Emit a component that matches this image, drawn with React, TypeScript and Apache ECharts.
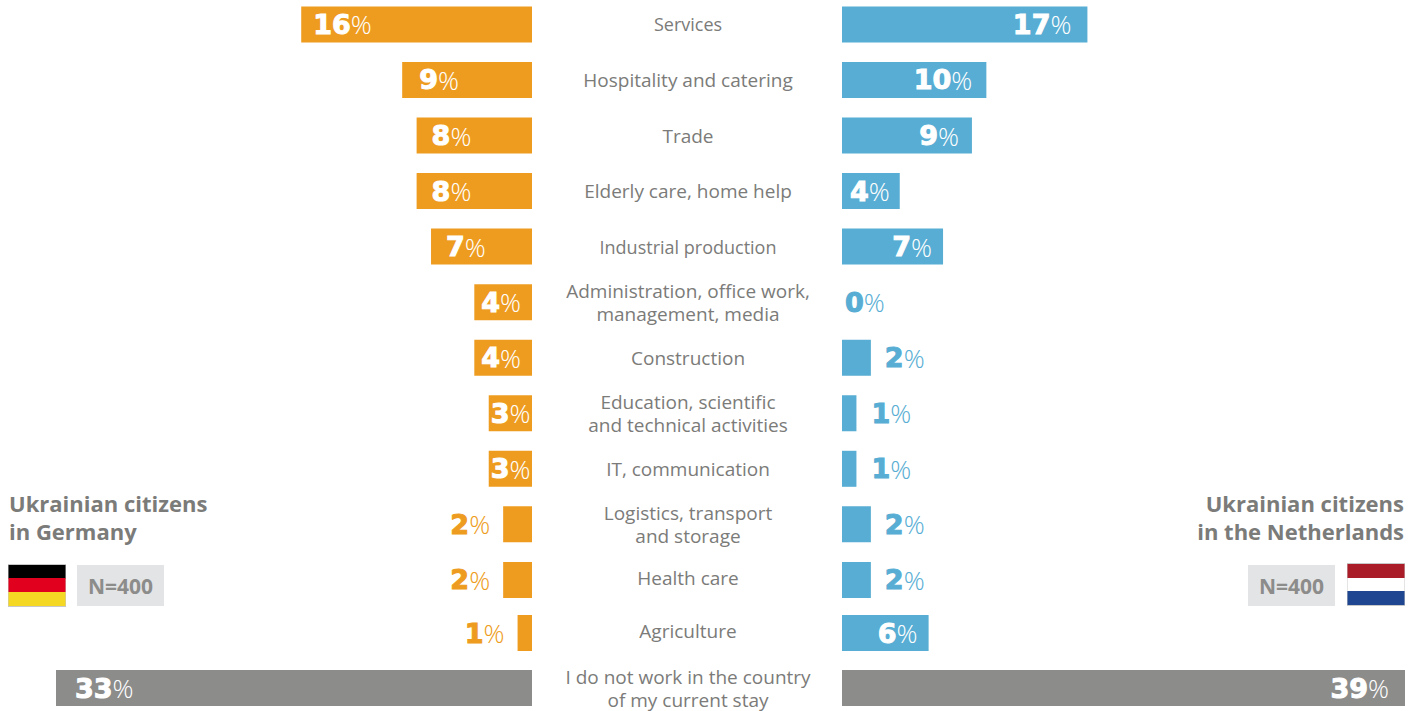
import React, { useEffect, useRef } from "react";
import * as echarts from "echarts";

const topCategories = [
  "Services",
  "Hospitality and catering",
  "Trade",
  "Elderly care, home help",
  "Industrial production",
  "Administration, office work,\nmanagement, media",
  "Construction",
  "Education, scientific\nand technical activities",
  "IT, communication",
  "Logistics, transport\nand storage",
  "Health care",
];
const bottomCategories = ["Agriculture", "I do not work in the country\nof my current stay"];
const germanyTop = [16, 9, 8, 8, 7, 4, 4, 3, 3, 2, 2];
const germanyBottom = [1, 33];
const netherlandsTop = [17, 10, 9, 4, 7, 0, 2, 1, 1, 2, 2];
const netherlandsBottom = [6, 39];

const raisedLabels = ["Health care", "Agriculture"];

const ORANGE = "#ee9c20";
const BLUE = "#57add3";
const GREY = "#8c8c8b";
const TEXT = "#7b7b79";
const NUM_FONT = '"DejaVu Sans", sans-serif';
const PCT_FONT = '"Open Sans", sans-serif';
const SHIFT = 10;

function rich(color: string) {
  return {
    n: { fontFamily: NUM_FONT, fontWeight: 700, fontSize: 27, color, textBorderColor: color, textBorderWidth: 1 },
    p: { fontFamily: PCT_FONT, fontWeight: 300, fontSize: 26, color },
  };
}

const germanyDistance = (v: number) => (v === 3 ? 2 : v === 4 ? 7 : v === 9 ? 17 : v === 16 ? 12 : v === 33 ? 19 : 15);

function germanyItem(value: number, lastRow: boolean) {
  const inside = value >= 3;
  return {
    value,
    itemStyle: { color: lastRow ? GREY : ORANGE },
    label: {
      show: true,
      position: inside ? "insideLeft" : "left",
      distance: inside ? germanyDistance(value) : 13,
      formatter: `{n|${value}}{p|%}`,
      rich: rich(inside ? "#ffffff" : ORANGE),
    },
  };
}

const netherlandsDistance = (v: number) => (v >= 17 ? 16 : v === 10 ? 14 : v === 9 ? 13 : v === 4 ? 10 : 11);

function netherlandsItem(value: number, lastRow: boolean) {
  const inside = value >= 4;
  return {
    value,
    itemStyle: { color: lastRow ? GREY : BLUE },
    label: {
      show: true,
      position: inside ? "insideRight" : "right",
      distance: inside ? netherlandsDistance(value) : value === 0 ? 3 : value === 1 ? 15 : 14,
      formatter: `{n|${value}}{p|%}`,
      rich: rich(inside ? "#ffffff" : BLUE),
    },
  };
}

const App = () => {
  const ref = useRef<HTMLDivElement>(null);
  useEffect(() => {
    document.body.style.margin = "0";
    document.body.style.overflow = "hidden";
    const chart = echarts.init(ref.current!, undefined, { renderer: "svg" });
    const labelStyle = {
      show: true,
      fontFamily: PCT_FONT,
      fontSize: 19,
      lineHeight: 23,
      color: TEXT,
      align: "center",
      margin: 154,
      formatter: (v: string) => (raisedLabels.includes(v) ? `{up|${v}}` : v),
      rich: {
        up: { fontFamily: PCT_FONT, fontSize: 19, lineHeight: 23, color: TEXT, padding: [0, 0, 4, 0] },
      },
    };
    const hiddenY = (cats: string[], gridIndex: number) => ({
      type: "category",
      data: cats,
      inverse: true,
      gridIndex,
      axisLine: { show: false },
      axisTick: { show: false },
      axisLabel: { show: false },
    });
    const labelY = (cats: string[], gridIndex: number) => ({
      type: "category",
      data: cats.map((c) => ({
        value: c,
        textStyle: {
          align: "center",
          fontSize: c === "Services" || c === "Industrial production" ? 18 : 19,
        },
      })),
      inverse: true,
      gridIndex,
      axisLine: { show: false },
      axisTick: { show: false },
      axisLabel: labelStyle,
    });
    const bar = (data: any[], idx: number) => ({
      type: "bar",
      xAxisIndex: idx,
      yAxisIndex: idx,
      barWidth: 36,
      data,
    });
    const titleText = (text: string, x: number, y: number, align: string) => ({
      type: "text",
      x,
      y,
      style: {
        text,
        fontFamily: PCT_FONT,
        fontWeight: 700,
        fontSize: 22,
        lineHeight: 28,
        fill: TEXT,
        align,
        verticalAlign: "top",
      },
    });
    const nBox = (x: number) => [
      { type: "rect", shape: { x, y: 565, width: 87, height: 41 }, style: { fill: "#e3e4e6" } },
      {
        type: "text",
        x: x + 43.5,
        y: 585.5,
        style: {
          text: "N=400",
          fontFamily: PCT_FONT,
          fontWeight: 700,
          fontSize: 21,
          fill: "#8c8c8b",
          align: "center",
          verticalAlign: "middle",
        },
      },
    ];
    const stripe = (x: number, y: number, h: number, fill: string) => ({
      type: "rect",
      shape: { x, y, width: 57, height: h },
      style: { fill },
    });
    chart.setOption({
      animation: false,
      grid: [
        { left: 56, width: 476, top: SHIFT - 3.375, height: 611.05 },
        { left: 842, width: 563, top: SHIFT - 3.375, height: 611.05 },
        { left: 56, width: 476, top: SHIFT + 605.5, height: 110 },
        { left: 842, width: 563, top: SHIFT + 605.5, height: 110 },
      ],
      xAxis: [0, 1, 2, 3].map((i) => ({
        type: "value",
        gridIndex: i,
        min: 0,
        max: i % 2 === 0 ? 33 : 39,
        inverse: i % 2 === 0,
        show: false,
      })),
      yAxis: [
        hiddenY(topCategories, 0),
        labelY(topCategories, 1),
        hiddenY(bottomCategories, 2),
        labelY(bottomCategories, 3),
      ],
      series: [
        bar(germanyTop.map((v) => germanyItem(v, false)), 0),
        bar(netherlandsTop.map((v) => netherlandsItem(v, false)), 1),
        bar(germanyBottom.map((v, i) => germanyItem(v, i === 1)), 2),
        bar(netherlandsBottom.map((v, i) => netherlandsItem(v, i === 1)), 3),
      ],
      graphic: [
        {
          type: "group",
          x: 0,
          y: SHIFT,
          children: [
            titleText("Ukrainian citizens\nin Germany", 9, 489, "left"),
            titleText("Ukrainian citizens\nin the Netherlands", 1404, 489, "right"),
            { type: "rect", shape: { x: 8, y: 564, width: 58, height: 43 }, style: { fill: "#c8c8c8" } },
            stripe(8.5, 565, 13.5, "#000000"),
            stripe(8.5, 578, 14, "#e2001f"),
            stripe(8.5, 592, 14, "#f5d823"),
            ...nBox(77),
            { type: "rect", shape: { x: 1347, y: 563, width: 58, height: 43 }, style: { fill: "#c8c8c8" } },
            stripe(1347.5, 564, 14, "#ab1c29"),
            stripe(1347.5, 578, 13, "#ffffff"),
            stripe(1347.5, 591, 14, "#1f4690"),
            ...nBox(1248),
          ],
        },
      ],
    });
    return () => chart.dispose();
  }, []);
  return (
    <div style={{ position: "absolute", left: 0, top: 0, width: 1420, height: 711, overflow: "hidden" }}>
      <div ref={ref} style={{ position: "absolute", left: 0, top: -SHIFT, width: 1420, height: 741 }} />
    </div>
  );
};

export default App;
